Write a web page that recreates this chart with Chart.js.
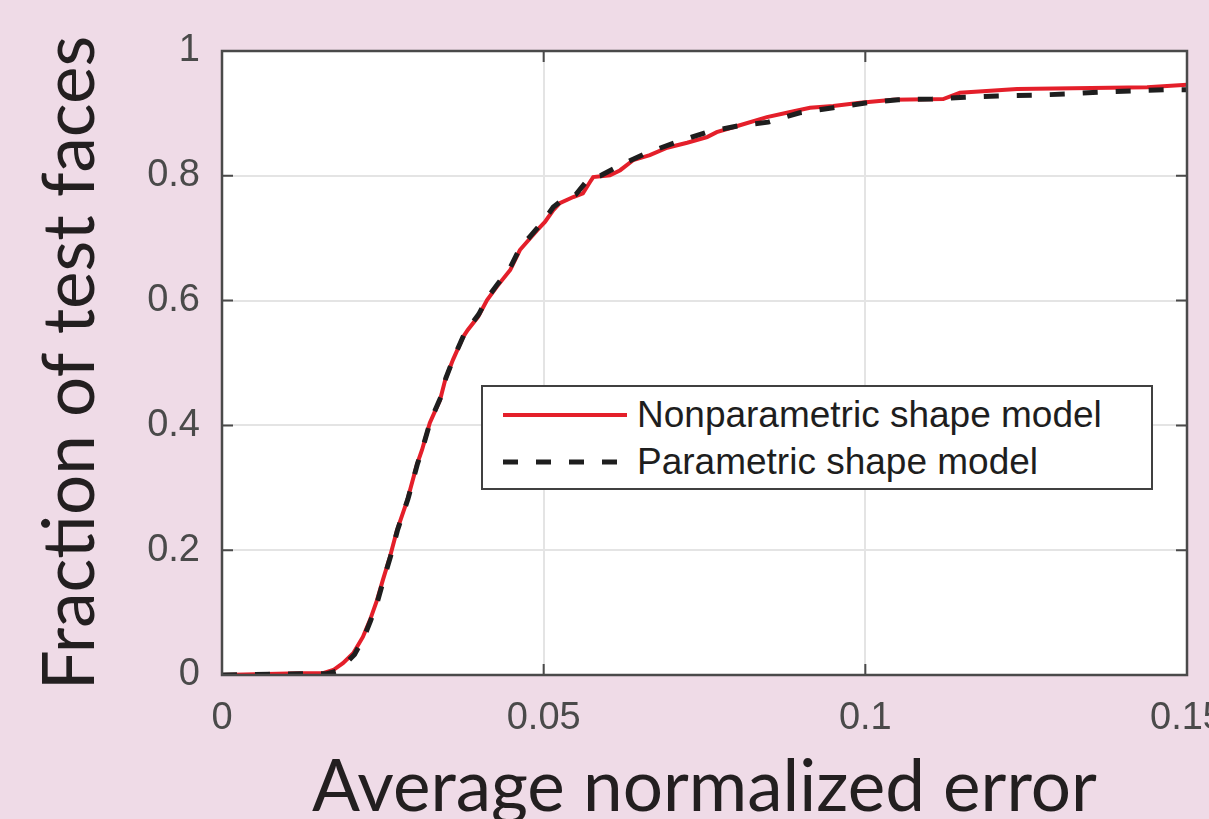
<!DOCTYPE html>
<html>
<head>
<meta charset="utf-8">
<script src="https://cdn.jsdelivr.net/npm/chart.js@4"></script>
<style>
  html, body { margin: 0; padding: 0; overflow: hidden; background: #efdbe7; }
  #wrap { position: absolute; left: 0; top: 0; width: 1240px; height: 845px; }
  #legend {
    position: absolute; left: 481px; top: 385px; width: 668px; height: 101px;
    border: 2px solid #404040; background: #fff;
    font-family: "Liberation Sans", Arial, sans-serif; font-size: 37px; color: #1e1e1e;
  }
  .item { position: absolute; left: 20px; height: 40px; display: flex; align-items: center; }
  .item svg { margin-right: 10px; }
</style>
</head>
<body>
<div id="wrap">
  <canvas id="chart" width="1240" height="845"></canvas>
  <div id="legend"></div>
</div>
<script>
// 시리즈 이름
const seriesNames = ['Nonparametric shape model', 'Parametric shape model'];

// 눈금
const xTickValues = [0, 0.05, 0.1, 0.15];
const xTickLabels = ['0', '0.05', '0.1', '0.15'];
const yTickValues = [0, 0.2, 0.4, 0.6, 0.8, 1];
const yTickLabels = ['0', '0.2', '0.4', '0.6', '0.8', '1'];

// 비모수 모델 (빨간 실선)
const nonparamX = [0, 0.0121, 0.0157, 0.0173, 0.0188, 0.0204, 0.0219, 0.0230, 0.0241, 0.0250,
  0.0261, 0.0272, 0.0288, 0.0303, 0.0311, 0.0323, 0.0339, 0.0347, 0.0359, 0.0375,
  0.0382, 0.0398, 0.0412, 0.0427, 0.0448, 0.0463, 0.0479, 0.0490, 0.0502, 0.0515,
  0.0525, 0.0546, 0.0561, 0.0572, 0.0577, 0.0603, 0.0619, 0.0639, 0.0665, 0.0692,
  0.0723, 0.0754, 0.0769, 0.0805, 0.0847, 0.0878, 0.0914, 0.0950, 0.0992, 0.1043,
  0.1121, 0.1147, 0.1236, 0.1438, 0.15];
const nonparamY = [0, 0.003, 0.003, 0.008, 0.019, 0.035, 0.061, 0.088, 0.120, 0.152,
  0.189, 0.232, 0.280, 0.337, 0.361, 0.404, 0.441, 0.473, 0.505, 0.542,
  0.553, 0.574, 0.601, 0.622, 0.649, 0.681, 0.700, 0.713, 0.726, 0.745,
  0.756, 0.766, 0.772, 0.790, 0.798, 0.801, 0.809, 0.825, 0.833, 0.845,
  0.853, 0.862, 0.870, 0.881, 0.894, 0.901, 0.909, 0.912, 0.917, 0.922,
  0.923, 0.933, 0.939, 0.942, 0.946];

// 모수 모델 (검은 점선)
const paramX = [0, 0.0121, 0.0163, 0.0177, 0.0190, 0.0206, 0.0220, 0.0231, 0.0242, 0.0251,
  0.0262, 0.0273, 0.0289, 0.0304, 0.0312, 0.0324, 0.0340, 0.0348, 0.0360, 0.0376,
  0.0383, 0.0399, 0.0413, 0.0428, 0.0448, 0.0463, 0.0479, 0.0490, 0.0502, 0.0515,
  0.0530, 0.0550, 0.0572, 0.0588, 0.0614, 0.0619, 0.0661, 0.0707, 0.0754, 0.0802,
  0.0849, 0.0898, 0.0950, 0.1003, 0.1051, 0.1104, 0.1155, 0.1206, 0.1259, 0.1310,
  0.1362, 0.1414, 0.1466, 0.15];
const paramY = [0, 0.002, 0.002, 0.006, 0.016, 0.033, 0.059, 0.087, 0.119, 0.152,
  0.190, 0.233, 0.282, 0.339, 0.364, 0.407, 0.445, 0.476, 0.508, 0.545,
  0.556, 0.578, 0.605, 0.626, 0.653, 0.684, 0.703, 0.716, 0.731, 0.750,
  0.762, 0.770, 0.798, 0.800, 0.814, 0.817, 0.837, 0.854, 0.870, 0.880,
  0.886, 0.901, 0.909, 0.917, 0.922, 0.923, 0.926, 0.928, 0.929, 0.931,
  0.934, 0.936, 0.938, 0.938];

const RED = '#e41f2a';
const BLACK = '#1e1e1e';
const AXIS = '#4a4a4a';

const toPoints = (xs, ys) => xs.map((x, i) => ({ x: x, y: ys[i] }));

// 플롯 영역 흰 배경 + 테두리 + 안쪽 눈금
const frame = {
  id: 'frame',
  beforeDraw(chart) {
    const a = chart.chartArea, ctx = chart.ctx;
    ctx.save();
    ctx.fillStyle = '#ffffff';
    ctx.fillRect(a.left, a.top, a.right - a.left, a.bottom - a.top);
    ctx.restore();
  },
  afterDraw(chart) {
    const a = chart.chartArea, ctx = chart.ctx;
    const xs = chart.scales.x, ys = chart.scales.y;
    ctx.save();
    ctx.strokeStyle = AXIS;
    ctx.lineWidth = 2;
    ctx.beginPath();
    xTickValues.forEach(v => {
      const px = xs.getPixelForValue(v);
      ctx.moveTo(px, a.bottom); ctx.lineTo(px, a.bottom - 11);
      ctx.moveTo(px, a.top); ctx.lineTo(px, a.top + 11);
    });
    yTickValues.forEach(v => {
      const py = ys.getPixelForValue(v);
      ctx.moveTo(a.left, py); ctx.lineTo(a.left + 11, py);
      ctx.moveTo(a.right, py); ctx.lineTo(a.right - 11, py);
    });
    ctx.stroke();
    ctx.lineWidth = 2.5;
    ctx.strokeRect(a.left, a.top, a.right - a.left, a.bottom - a.top);
    ctx.restore();
  }
};

const ctx = document.getElementById('chart').getContext('2d');
const chart = new Chart(ctx, {
  type: 'line',
  data: {
    datasets: [{
      label: seriesNames[0],
      data: toPoints(nonparamX, nonparamY),
      borderColor: RED,
      borderWidth: 4,
      pointRadius: 0,
      tension: 0,
      order: 2
    }, {
      label: seriesNames[1],
      data: toPoints(paramX, paramY),
      borderColor: BLACK,
      borderWidth: 5,
      borderDash: [15, 18],
      pointRadius: 0,
      tension: 0,
      order: 1
    }]
  },
  options: {
    responsive: false,
    animation: false,
    layout: { padding: { top: 51, right: 53, bottom: 0, left: 0 } },
    plugins: { legend: { display: false }, tooltip: { enabled: false } },
    scales: {
      x: {
        type: 'linear',
        min: 0,
        max: 0.15,
        afterBuildTicks: s => { s.ticks = xTickValues.map(v => ({ value: v })); },
        afterFit: s => { s.height = 170; s.paddingLeft = 0; s.paddingRight = 0; },
        ticks: {
          callback: (v, i) => xTickLabels[i],
          color: AXIS,
          padding: 21,
          maxRotation: 0,
          font: { family: '"Liberation Sans", Arial, sans-serif', size: 38 }
        },
        grid: { color: '#e4e4e4', lineWidth: 2, drawTicks: false },
        border: { display: false },
        title: {
          display: true,
          text: 'Average normalized error',
          color: '#231f20',
          padding: { top: 0, bottom: 14 },
          font: { family: 'Lato, "Open Sans", sans-serif', size: 71 }
        }
      },
      y: {
        type: 'linear',
        min: 0,
        max: 1,
        afterBuildTicks: s => { s.ticks = yTickValues.map(v => ({ value: v })); },
        afterFit: s => { s.width = 222; s.paddingTop = 0; s.paddingBottom = 0; },
        ticks: {
          callback: (v, i) => yTickLabels[i],
          color: AXIS,
          padding: 22,
          font: { family: '"Liberation Sans", Arial, sans-serif', size: 38 }
        },
        grid: { color: '#e4e4e4', lineWidth: 2, drawTicks: false },
        border: { display: false },
        title: {
          display: true,
          text: 'Fraction of test faces',
          color: '#231f20',
          padding: { top: 29, bottom: 0 },
          font: { family: 'Lato, "Open Sans", sans-serif', size: 71 }
        }
      }
    }
  },
  plugins: [frame]
});

// 범례 (HTML)
const legend = document.getElementById('legend');
chart.data.datasets.forEach((ds, i) => {
  const item = document.createElement('div');
  item.className = 'item';
  item.style.top = (i === 0 ? 8 : 55) + 'px';
  const dash = ds.borderDash ? `stroke-dasharray="${ds.borderDash.join(' ')}"` : '';
  item.innerHTML =
    `<svg width="124" height="10"><line x1="0" y1="5" x2="124" y2="5" stroke="${ds.borderColor}" stroke-width="${ds.borderWidth}" ${dash}/></svg>` +
    `<span>${ds.label}</span>`;
  legend.appendChild(item);
});
</script>
</body>
</html>
